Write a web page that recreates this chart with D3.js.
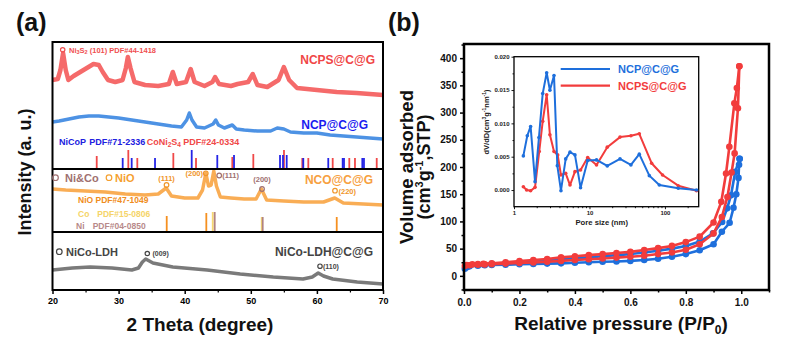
<!DOCTYPE html>
<html><head><meta charset="utf-8">
<script src="https://cdn.jsdelivr.net/npm/d3@7"></script>
<style>
body{margin:0;background:#fff}
svg{font-family:"Liberation Sans",Arial,sans-serif;font-weight:bold}
</style>
</head><body>
<svg id="c" width="788" height="351"></svg>
<script>
// ---------- Panel (a) XRD data: [2theta (deg), intensity (a.u., stacked)] ----------
const xrdNCPS = [[20,210],[20.8,211],[21.2,220],[21.6,237],[22.0,220],[22.4,210],[23.2,214],[24.2,218],[25.2,222],[26.2,226],[27.0,225],[27.6,218],[28.4,210],[29.5,208],[30.6,210],[31.1,222],[31.4,233],[31.8,222],[32.4,208],[34,205],[36,204],[37.6,206],[38.2,218],[38.8,206],[40.2,208],[40.9,221],[41.5,208],[43,204],[44.2,208],[44.6,213],[45.2,206],[47,204],[48,206],[49.6,208],[50.3,216],[51.0,205],[52.5,203],[54.2,210],[55.0,223],[55.8,210],[57,202],[60,200],[63,198],[66,197],[70,195]];
const xrdNCP = [[20,168],[21,169],[22.5,171],[24,173],[25.5,174],[27,174],[28.5,173],[30,172],[32,170],[34,168],[36,166],[38,164],[39.5,163],[40.3,170],[40.7,177],[41.1,170],[41.8,163],[43,162],[44.3,166],[44.7,170],[45.1,165],[46,162],[47.2,165],[47.8,161],[49,160],[51,159],[53,159],[54,162],[55,161],[56,158],[58,157],[60,157],[62,155],[64,154],[66,153],[68,152],[70,151]];
const xrdNCO = [[20,101],[22,100],[25,99],[28,98],[31,96],[34,95],[36,96],[37.2,102],[38,94],[40,92],[42,92],[42.7,100],[43.2,117],[43.6,104],[44.0,105],[44.4,119],[44.8,104],[45.4,93],[47,92],[49,91],[50.8,91],[51.6,101],[52.4,90],[55,89],[58,88],[61,88],[62.7,92],[64,87],[67,86],[70,85]];
const xrdLDH = [[20,20],[23,22],[25.7,23],[29,22],[32,20],[33,22],[33.6,28],[34.1,31],[35.2,27],[38.2,23],[43.4,20],[48.4,16],[53.4,13],[57.9,11],[59.3,13],[60.2,17],[61,14],[62.4,11],[66.1,8],[70,6]];
// reference patterns: [2theta, relative stick height]
const refNiCoP = [[30.62,10],[31.98,10],[35.51,10],[41.06,18],[44.93,13],[47.46,13],[54.42,13],[54.87,13],[55.43,13],[57.94,10],[61.72,10],[63.9,10],[64.1,10],[66.87,10],[67.12,10]];
const refCoNi2S4 = [[26.69,12],[31.47,18],[32.83,10],[38.28,15],[41.71,10],[47.2,11],[50.38,14],[55.02,18],[57.79,10],[58.70,10],[62.39,10],[64.90,10],[65.76,10],[69.05,10]];
const refNiO = [[37.28,16],[43.27,19],[63.0,15]];
const refCo = [[44.24,20],[51.65,15]];
const refNi = [[44.54,20],[51.8,15]];
const xTicksA = [20,30,40,50,60,70];

// ---------- Panel (b) N2 isotherms: [P/P0, volume] ----------
const ncpsAds = [[0.003,18],[0.02,19.5],[0.05,20.5],[0.075,21],[0.1,21.5],[0.15,22.5],[0.2,23.5],[0.25,24.5],[0.3,26],[0.35,27.5],[0.4,29],[0.45,30.5],[0.5,32],[0.55,33.5],[0.6,35],[0.65,37],[0.7,40],[0.75,43],[0.8,48],[0.85,58],[0.9,78],[0.93,108],[0.95,145],[0.965,190],[0.976,225],[0.988,308],[0.993,385]];
const ncpsDes = [[0.993,385],[0.984,345],[0.975,317],[0.957,237],[0.945,188],[0.928,136],[0.9,98],[0.85,72],[0.8,62],[0.75,55],[0.7,51],[0.65,47.5],[0.6,44],[0.55,42],[0.5,40],[0.45,38],[0.4,36],[0.35,34],[0.3,31],[0.25,29],[0.2,27],[0.15,25],[0.1,23],[0.07,22],[0.05,21.5],[0.03,21],[0.01,20]];
const ncpAds = [[0.003,13],[0.01,16],[0.02,17.5],[0.05,18.5],[0.075,19.5],[0.1,20],[0.15,20.5],[0.2,21.5],[0.25,22],[0.3,22.5],[0.35,23],[0.4,24],[0.45,25],[0.5,26],[0.55,26.5],[0.6,27.5],[0.65,29],[0.7,31.5],[0.75,35],[0.8,40],[0.85,47],[0.9,58],[0.93,81],[0.958,97.5],[0.972,125],[0.982,150],[0.99,180],[0.992,204],[0.994,215]];
const ncpDes = [[0.994,215],[0.978,191],[0.963,148],[0.949,124],[0.931,99],[0.898,78],[0.85,63],[0.8,55],[0.75,50],[0.7,46],[0.65,43],[0.6,40],[0.55,38],[0.5,36],[0.45,34],[0.4,32.5],[0.35,30.5],[0.3,28.5],[0.25,26.5],[0.2,25],[0.15,23.5],[0.1,22],[0.07,21],[0.05,20.5],[0.02,19.5]];
const xTicksB = [0,0.2,0.4,0.6,0.8,1.0];
const yTicksB = [0,50,100,150,200,250,300,350,400];

// ---------- Inset pore size distribution: [D (nm), dV/dD] ----------
const psdNCP = [[1.33,0.00512],[1.50,0.00814],[1.66,0.00954],[1.90,0.00126],[2.14,0.00788],[2.40,0.01447],[2.71,0.0176],[2.99,0.01497],[3.39,0.01718],[3.75,0.00366],[4.19,-0.0001],[4.84,0.00467],[5.52,0.00568],[6.42,0.00527],[7.62,0.00035],[9.47,0.00442],[12.4,0.00452],[17.2,0.00362],[25.4,0.00467],[35.4,0.00377],[45.7,0.00538],[62.1,0.00216],[84.2,0.00075],[150,0.00026],[262,0.0]];
const psdNCPS = [[1.33,0.0005],[1.47,0.0],[1.66,-0.0001],[1.90,0.0004],[2.16,0.00578],[2.40,0.0103],[2.71,0.0143],[2.99,0.0083],[3.39,0.00578],[3.79,0.00527],[4.19,0.00226],[4.84,0.00251],[5.52,0.00075],[6.42,0.00276],[7.62,0.00301],[9.47,0.00487],[12.4,0.00377],[17.2,0.00643],[25.4,0.00794],[35.4,0.00814],[45.7,0.00844],[66.6,0.00402],[93,0.00226],[150,0.00065],[262,-0.0001]];
const yTicksI = [0,0.005,0.010,0.015,0.020];
const xTicksI = [1,10,100];

const svg = d3.select("#c");

// ================= PANEL (a) =================
const xA = d3.scaleLinear().domain([20,70]).range([52.5,383]);
const yA = d3.scaleLinear().domain([0,248]).range([290,42]);
const lineA = d3.line().x(d=>xA(d[0])).y(d=>yA(d[1]));
const gA = svg.append("g");

function curveA(data,color,w){
  gA.append("path").datum(data).attr("d",lineA).attr("fill","none")
    .attr("stroke",color).attr("stroke-width",w).attr("stroke-linejoin","round");
}
curveA(xrdNCPS,"#f56a6a",4.5);
curveA(xrdNCP,"#4d92e4",3.5);
curveA(xrdNCO,"#f9ad55",3.5);
curveA(xrdLDH,"#7a7a7a",3.5);

function sticks(data,base,color,w){
  gA.selectAll(null).data(data).enter().append("line")
    .attr("x1",d=>xA(d[0])).attr("x2",d=>xA(d[0]))
    .attr("y1",yA(base)).attr("y2",d=>yA(base+d[1]))
    .attr("stroke",color).attr("stroke-width",w);
}
sticks(refCoNi2S4,122,"#f04848",1.8);
sticks(refNiCoP,122,"#2424e6",1.8);
sticks(refNiO,58,"#f59020",1.8);
sticks(refCo,58,"#f7d870",1.8);
sticks(refNi,58,"#b08282",1.8);

// frame and dividers
gA.append("rect").attr("x",52.5).attr("y",42).attr("width",330.5).attr("height",248)
  .attr("fill","none").attr("stroke","#000").attr("stroke-width",2);
[121,58].forEach(v=>gA.append("line").attr("x1",52.5).attr("x2",383)
  .attr("y1",yA(v)).attr("y2",yA(v)).attr("stroke","#000").attr("stroke-width",2));

// x axis
const axA = gA.append("g").attr("transform","translate(0,290)")
  .call(d3.axisBottom(xA).tickValues(xTicksA).tickSize(4).tickPadding(4).tickFormat(d3.format("d")));
axA.select(".domain").remove();
axA.selectAll("line").attr("stroke-width",1.5);
axA.selectAll("text").attr("font-size",9).attr("font-weight","bold").attr("font-family","Liberation Sans, Arial, sans-serif");
const axAm = gA.append("g").attr("transform","translate(0,290)")
  .call(d3.axisBottom(xA).tickValues([25,35,45,55,65]).tickSize(2.5).tickFormat(""));
axAm.select(".domain").remove();
axAm.selectAll("line").attr("stroke-width",1.2);

// helpers
function txt(g,x,y,s,size,color,anchor){
  return g.append("text").attr("x",x).attr("y",y).attr("font-size",size)
    .attr("fill",color).attr("text-anchor",anchor||"start").text(s);
}
function ring(g,x,y,r,color){
  g.append("circle").attr("cx",x).attr("cy",y).attr("r",r).attr("fill","none")
    .attr("stroke",color).attr("stroke-width",1.2);
}

txt(svg,16,31,"(a)",25,"#111");
svg.append("text").attr("transform","translate(31,172) rotate(-90)").attr("text-anchor","middle")
  .attr("font-size",18).attr("fill","#111").text("Intensity (a. u.)");
txt(svg,200,331,"2 Theta (degree)",19,"#111","middle");

// top section labels
ring(gA,62.7,49.8,2.2,"#f05050");
{const t=txt(gA,69,52.5,"Ni",7.5,"#f05050");
 t.append("tspan").attr("dy",1.5).attr("font-size",5.5).text("3");
 t.append("tspan").attr("dy",-1.5).text("S");
 t.append("tspan").attr("dy",1.5).attr("font-size",5.5).text("2");
 t.append("tspan").attr("dy",-1.5).text(" (101) PDF#44-1418");}
txt(gA,375,64,"NCPS@C@G",12,"#f04646","end");
txt(gA,368,128.5,"NCP@C@G",12,"#1c1cf0","end");
txt(gA,59,144.5,"NiCoP",9,"#2020e0");
txt(gA,89.3,144.5,"PDF#71-2336",9,"#2020e0");
{const t=txt(gA,146.7,144.5,"CoNi",9,"#f04848");
 t.append("tspan").attr("dy",2).attr("font-size",6.5).text("2");
 t.append("tspan").attr("dy",-2).text("S");
 t.append("tspan").attr("dy",2).attr("font-size",6.5).text("4");}
txt(gA,183.3,144.5,"PDF#24-0334",9,"#f04848");

// middle section labels
ring(gA,55.5,177.7,2.8,"#a07070");
txt(gA,65,181.5,"Ni&Co",11,"#a07070");
ring(gA,109,177.7,2.8,"#f5a030");
txt(gA,115,181.5,"NiO",11,"#f5a030");
txt(gA,373,184,"NCO@C@G",12,"#f7a040","end");
txt(gA,xA(37.25),180.5,"(111)",7.5,"#f0962a","middle");
ring(gA,xA(37.25),185,2.3,"#f0962a");
txt(gA,203,175.5,"(200)",7.5,"#f0962a","end");
ring(gA,205.8,173.3,2.3,"#f0962a");
ring(gA,219.2,175.5,2.3,"#a07070");
txt(gA,222.3,178,"(111)",7.5,"#a07070");
txt(gA,xA(51.7),181.5,"(200)",7.5,"#a07070","middle");
ring(gA,xA(51.7),189,2.3,"#a07070");
ring(gA,335,190.7,2.3,"#f0962a");
txt(gA,338.5,193.7,"(220)",7.5,"#f0962a");
txt(gA,78,203,"NiO PDF#47-1049",8.5,"#f08c20");
txt(gA,78,217,"Co",8.5,"#f5d468");
txt(gA,97.3,217,"PDF#15-0806",8.5,"#f5d468");
txt(gA,76,228.5,"Ni",8.5,"#b88a8a");
txt(gA,92.7,228.5,"PDF#04-0850",8.5,"#b88a8a");

// bottom section labels
ring(gA,59.3,251.7,2.8,"#444");
txt(gA,66,255.5,"NiCo-LDH",11,"#444");
ring(gA,147.3,253.5,2.2,"#444");
txt(gA,152.5,256,"(009)",7,"#444");
txt(gA,373,255.5,"NiCo-LDH@C@G",12,"#444","end");
ring(gA,320,266.2,2.2,"#444");
txt(gA,323,268.7,"(110)",7,"#444");

// ================= PANEL (b) =================
const xB = d3.scaleLinear().domain([0,1.1]).range([464,769]);
const yB = d3.scaleLinear().domain([-26,426]).range([290,44]);
const lineB = d3.line().x(d=>xB(d[0])).y(d=>yB(d[1]));
const gB = svg.append("g");
const RED="#f23c3c", BLUE="#1e6fdc";
function iso(data,color){
  gB.append("path").datum(data).attr("d",lineB).attr("fill","none")
    .attr("stroke",color).attr("stroke-width",2.6).attr("stroke-linejoin","round");
  gB.selectAll(null).data(data).enter().append("circle")
    .attr("cx",d=>xB(d[0])).attr("cy",d=>yB(d[1])).attr("r",3.3).attr("fill",color);
}
iso(ncpAds,BLUE); iso(ncpDes,BLUE);
iso(ncpsAds,RED); iso(ncpsDes,RED);
// redraw blue low curves partially on top like reference
gB.append("rect").attr("x",464).attr("y",44).attr("width",305).attr("height",246)
  .attr("fill","none").attr("stroke","#000").attr("stroke-width",2.5);

function styleAx(a,size){
  a.select(".domain").remove();
  a.selectAll("line").attr("stroke-width",1.5);
  a.selectAll("text").attr("font-size",size).attr("font-weight","bold").attr("font-family","Liberation Sans, Arial, sans-serif").attr("fill","#111");
}
styleAx(gB.append("g").attr("transform","translate(0,290)")
  .call(d3.axisBottom(xB).tickValues(xTicksB).tickSize(4).tickPadding(5).tickFormat(d3.format(".1f"))),10);
styleAx(gB.append("g").attr("transform","translate(0,290)")
  .call(d3.axisBottom(xB).tickValues([0.1,0.3,0.5,0.7,0.9,1.1]).tickSize(2.5).tickFormat("")),10);
styleAx(gB.append("g").attr("transform","translate(464,0)")
  .call(d3.axisLeft(yB).tickValues(yTicksB).tickSize(4).tickPadding(3).tickFormat(d3.format("d"))),10);
styleAx(gB.append("g").attr("transform","translate(464,0)")
  .call(d3.axisLeft(yB).tickValues([-25,25,75,125,175,225,275,325,375,425]).tickSize(2.5).tickFormat("")),10);

txt(svg,388,31,"(b)",25,"#111");
svg.append("text").attr("transform","translate(413,167) rotate(-90)").attr("text-anchor","middle")
  .attr("font-size",18.5).attr("fill","#111").text("Volume adsorbed");
{const t=svg.append("text").attr("transform","translate(430,167) rotate(-90)").attr("text-anchor","middle")
  .attr("font-size",18).attr("fill","#111");
 t.append("tspan").text("(cm");
 t.append("tspan").attr("dy",-7).attr("font-size",11).text("3");
 t.append("tspan").attr("dy",7).text("g");
 t.append("tspan").attr("dy",-7).attr("font-size",11).text("-1");
 t.append("tspan").attr("dy",7).text(",STP)");}
{const t=txt(svg,621,330,"Relative pressure (P/P",19,"#111","middle");
 t.append("tspan").attr("dy",4).attr("font-size",12).text("0");
 t.append("tspan").attr("dy",-4).text(")");}

// ================= INSET =================
const xI = d3.scaleLog().domain([1,280]).range([514,698.7]);
const yI = d3.scaleLinear().domain([-0.0025,0.0200]).range([206.7,56.7]);
const lineI = d3.line().x(d=>xI(d[0])).y(d=>yI(d[1]));
const gI = svg.append("g");
gI.append("rect").attr("x",514).attr("y",56.7).attr("width",184.7).attr("height",150)
  .attr("fill","#fff").attr("stroke","#000").attr("stroke-width",1.3);
function psd(data,color){
  gI.append("path").datum(data).attr("d",lineI).attr("fill","none")
    .attr("stroke",color).attr("stroke-width",2).attr("stroke-linejoin","round");
  gI.selectAll(null).data(data).enter().append("circle")
    .attr("cx",d=>xI(d[0])).attr("cy",d=>yI(d[1])).attr("r",1.8).attr("fill",color);
}
psd(psdNCPS,RED);
psd(psdNCP,BLUE);
function styleI(a,size){
  a.select(".domain").remove();
  a.selectAll("line").attr("stroke-width",0.9);
  a.selectAll("text").attr("font-size",size).attr("font-weight","bold").attr("font-family","Liberation Sans, Arial, sans-serif").attr("fill","#222");
}
styleI(gI.append("g").attr("transform","translate(514,0)")
  .call(d3.axisLeft(yI).tickValues(yTicksI).tickSize(2.5).tickPadding(2).tickFormat(d3.format(".3f"))),6);
styleI(gI.append("g").attr("transform","translate(514,0)")
  .call(d3.axisLeft(yI).tickValues([0.0025,0.0075,0.0125,0.0175]).tickSize(1.5).tickFormat("")),6);
styleI(gI.append("g").attr("transform","translate(0,206.7)")
  .call(d3.axisBottom(xI).tickValues(xTicksI).tickSize(2.5).tickPadding(2).tickFormat(d3.format("d"))),6);
const minorI=[];[1,10,100].forEach(b=>{for(let k=2;k<=9;k++){if(b*k<=280)minorI.push(b*k);}});
styleI(gI.append("g").attr("transform","translate(0,206.7)")
  .call(d3.axisBottom(xI).tickValues(minorI).tickSize(1.5).tickFormat("")),6);
txt(gI,601.7,224.5,"Pore size (nm)",7.7,"#222","middle");
{const t=gI.append("text").attr("transform","translate(489,122) rotate(-90)").attr("text-anchor","middle")
  .attr("font-size",7.5).attr("fill","#222");
 t.append("tspan").text("dV/dD(cm");
 t.append("tspan").attr("dy",-3).attr("font-size",5).text("3");
 t.append("tspan").attr("dy",3).text("g");
 t.append("tspan").attr("dy",-3).attr("font-size",5).text("-1");
 t.append("tspan").attr("dy",3).text("nm");
 t.append("tspan").attr("dy",-3).attr("font-size",5).text("-1");
 t.append("tspan").attr("dy",3).text(")");}
// legend
gI.append("line").attr("x1",560.7).attr("x2",610).attr("y1",69).attr("y2",69).attr("stroke",BLUE).attr("stroke-width",2.2);
txt(gI,618,73,"NCP@C@G",11,BLUE);
gI.append("line").attr("x1",560.7).attr("x2",610).attr("y1",85.7).attr("y2",85.7).attr("stroke",RED).attr("stroke-width",2.2);
txt(gI,618,89.7,"NCPS@C@G",11,RED);
</script>
</body></html>
